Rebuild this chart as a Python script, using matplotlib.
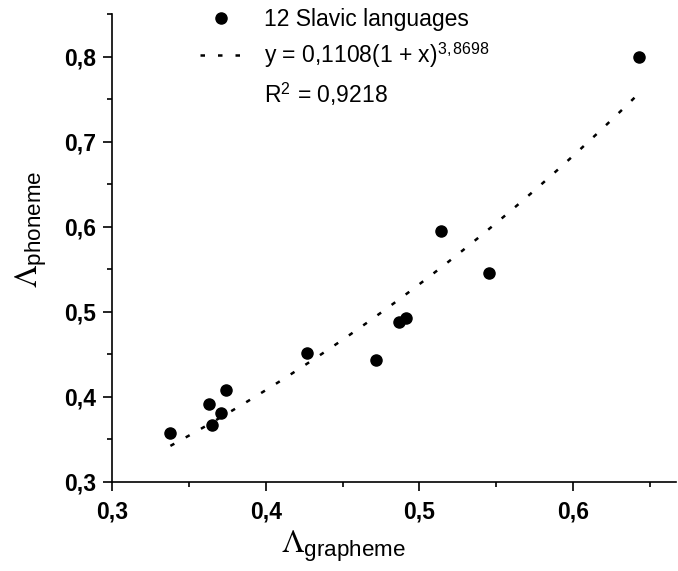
import matplotlib
matplotlib.use('Agg')
import matplotlib.pyplot as plt
import numpy as np
from matplotlib.lines import Line2D
from matplotlib.ticker import MultipleLocator, FuncFormatter

plt.rcParams['font.family'] = ['Liberation Sans', 'DejaVu Sans']
plt.rcParams['mathtext.fontset'] = 'stix'

# 12 Slavic languages
x_grapheme = [0.338, 0.363, 0.365, 0.371, 0.374, 0.427, 0.472, 0.487, 0.491, 0.514, 0.545, 0.643]
y_phoneme = [0.357, 0.391, 0.367, 0.381, 0.408, 0.451, 0.443, 0.488, 0.492, 0.595, 0.545, 0.799]

# fit y = a(1 + x)^b as given on the chart
fit_a = 0.1108
fit_b = 3.8698

x_major = [0.3, 0.4, 0.5, 0.6]
y_major = [0.3, 0.4, 0.5, 0.6, 0.7, 0.8]

fig = plt.figure(figsize=(6.78, 5.71), dpi=100)
ax = fig.add_axes([112/678, (571-481.5)/571, (676-112)/678, (481.5-14)/571])

ax.plot(x_grapheme, y_phoneme, 'o', color='k', ms=8, clip_on=False)
xs = np.linspace(min(x_grapheme), max(x_grapheme), 200)
ax.plot(xs, fit_a * (1 + xs)**fit_b, color='k', lw=1.8, ls=(0, (1.8, 5.2)))

ax.set_xlim(0.3, 0.667)
ax.set_ylim(0.3, 0.85)
ax.set_xticks(x_major)
ax.set_yticks(y_major)
ax.xaxis.set_minor_locator(MultipleLocator(0.05))
ax.yaxis.set_minor_locator(MultipleLocator(0.05))
fmt = FuncFormatter(lambda v, p: ('%.1f' % v).replace('.', ','))
ax.xaxis.set_major_formatter(fmt)
ax.yaxis.set_major_formatter(fmt)
for s in ['top', 'right']:
    ax.spines[s].set_visible(False)
for s in ['left', 'bottom']:
    ax.spines[s].set_linewidth(1.2)
ax.tick_params(which='major', direction='out', length=6.5, width=1.2, labelsize=16.5)
ax.tick_params(axis='x', which='major', pad=7)
ax.tick_params(axis='y', which='major', pad=5)
ax.tick_params(which='minor', direction='out', length=3.6, width=1.2)
for lab in ax.get_xticklabels() + ax.get_yticklabels():
    lab.set_fontweight('bold')

ax.set_xlabel(r'$\Lambda_{\mathregular{grapheme}}$', fontsize=23)
ax.xaxis.set_label_coords(0.41, -0.1)
ax.set_ylabel(r'$\Lambda_{\mathregular{phoneme}}$', fontsize=23)
ax.yaxis.set_label_coords(-0.112, 0.54)

handles = [Line2D([], [], ls='none', marker='o', color='k', ms=8),
           Line2D([], [], color='k', lw=1.8, ls=(0, (1.8, 5.2))),
           Line2D([], [], ls='none')]
labels = ['12 Slavic languages',
          r'y = 0,1108(1 + x)$^{\mathregular{3,8698}}$',
          r'R$^{\mathregular{2}}$ = 0,9218']
fig.legend(handles, labels, loc='upper left', bbox_to_anchor=(200/678, 1 - 8/571),
           frameon=False, fontsize=16.5, handlelength=1.8, handletextpad=1.0,
           labelspacing=0.45, borderpad=0, borderaxespad=0)

fig.savefig('out.png', dpi=100)
